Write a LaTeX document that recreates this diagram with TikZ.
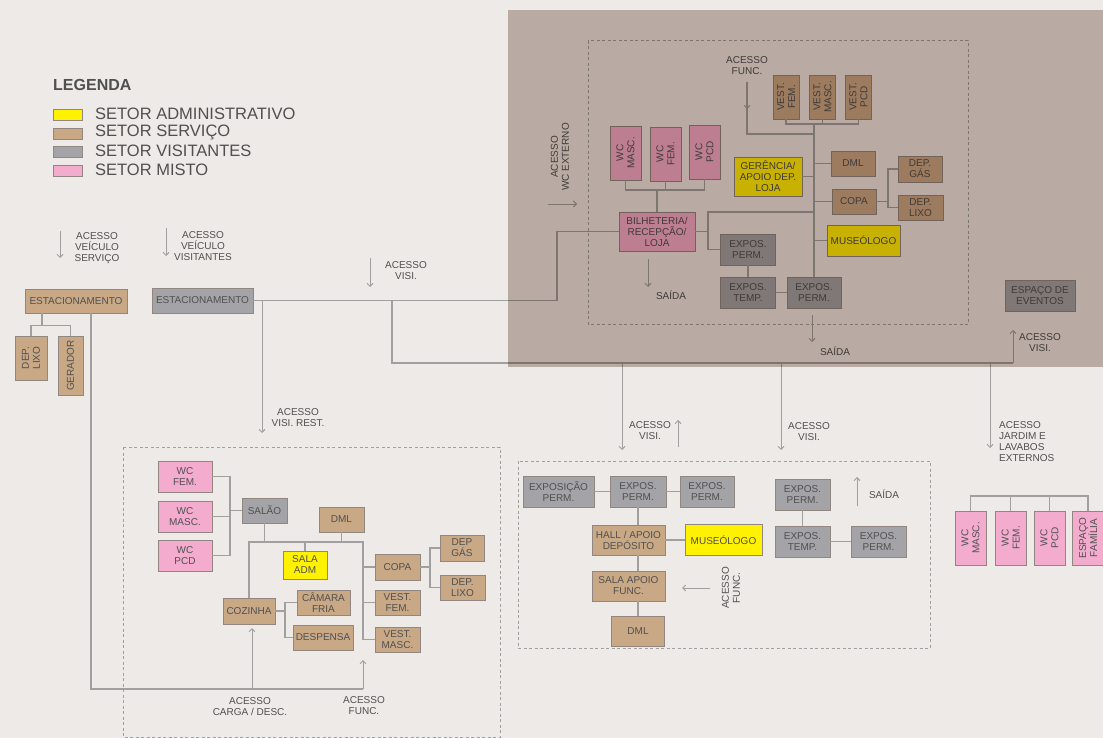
\documentclass[tikz,border=0pt]{standalone}
\usepackage{fontspec}
\setmainfont{Liberation Sans}
\usetikzlibrary{arrows.meta}
\definecolor{bgc}{RGB}{237,234,231}
\definecolor{ovl}{RGB}{200,187,180}
\definecolor{lnc}{RGB}{160,160,160}
\definecolor{txc}{RGB}{80,80,80}
\definecolor{bdc}{RGB}{145,135,128}
\definecolor{admc}{RGB}{255,242,0}
\definecolor{srvc}{RGB}{201,168,134}
\definecolor{visc}{RGB}{164,164,168}
\definecolor{mixc}{RGB}{243,172,206}

\begin{document}
\begin{tikzpicture}[x=1pt,y=-1pt,
  every node/.style={text=txc,font=\fontsize{10}{11}\selectfont,align=center,inner sep=1pt},
  sect/.style={draw=bdc,line width=0.9pt,fill=#1},
  adm/.style={sect=admc}, srv/.style={sect=srvc}, vis/.style={sect=visc}, mix/.style={sect=mixc},
  rot/.style={rotate=90},
  ln/.style={draw=lnc,line width=1.1pt},
  arr/.style={draw=lnc,line width=0.9pt,-{Straight Barb[length=3pt,width=6pt]}},
  dbox/.style={draw=lnc,line width=1pt,dash pattern=on 3pt off 2.5pt},
  leg/.style={font=\fontsize{16.5}{18}\selectfont,anchor=west}]
\fill[bgc] (0,0) rectangle (1103,738);
\useasboundingbox (0,0) rectangle (1103,738);

% legenda
\node[font=\bfseries\fontsize{16}{18}\selectfont,anchor=west,inner sep=0pt] (legT) at (53,85) {LEGENDA};
\node[adm,minimum width=29,minimum height=11] (lgA) at (67.5,115) {};
\node[srv,minimum width=29,minimum height=11] (lgS) at (67.5,133.5) {};
\node[vis,minimum width=29,minimum height=11] (lgV) at (67.5,151.5) {};
\node[mix,minimum width=29,minimum height=11] (lgM) at (67.5,170.5) {};
\node[leg] (lgAt) at (94,114) {SETOR ADMINISTRATIVO};
\node[leg] (lgSt) at (94,132.5) {SETOR SERVIÇO};
\node[leg] (lgVt) at (94,151) {SETOR VISITANTES};
\node[leg] (lgMt) at (94,170) {SETOR MISTO};

% estacionamento servico
\coordinate (aVs) at (60,231);
\draw[arr] (aVs) -- ++(0,27);
\node (lVs) at (97,248) {ACESSO\\VEÍCULO\\SERVIÇO};
\node[srv,minimum width=102,minimum height=24] (estS) at (76,301) {ESTACIONAMENTO};
\node[srv,rot,minimum width=44,minimum height=32] (lixoA) at (31,358) {DEP.\\LIXO};
\node[srv,rot,minimum width=59,minimum height=25] (gerador) at (70.5,365.5) {GERADOR};
\draw[ln] ([xshift=-34pt]estS.south) -- ++(0,12) coordinate (jS);
\draw[ln] (lixoA.east) |- (jS) -| (gerador.east);

% estacionamento visitantes
\coordinate (aVv) at (166,228);
\draw[arr] (aVv) -- ++(0,28);
\node (lVv) at (203,246) {ACESSO\\VEÍCULO\\VISITANTES};
\node[vis,minimum width=101,minimum height=25] (estV) at (202.5,300.5) {ESTACIONAMENTO};
\coordinate (aVi) at (370,258);
\draw[arr] (aVi) -- ++(0,29);
\node (lVi) at (406,271) {ACESSO\\VISI.};

% bloco superior (loja)
\node[mix,rot,minimum width=54,minimum height=31] (wcMa) at (625.5,153) {WC\\MASC.};
\node[mix,rot,minimum width=54,minimum height=31] (wcFa) at (665.5,154) {WC\\FEM.};
\node[mix,rot,minimum width=54,minimum height=31] (wcPa) at (704.5,152) {WC\\PCD};
\node[mix,minimum width=76,minimum height=39] (bilh) at (657,231.5) {BILHETERIA/\\RECEPÇÃO/\\LOJA};
\node[vis,minimum width=55,minimum height=31] (expA) at (748,249.5) {EXPOS.\\PERM.};
\node[vis,minimum width=55,minimum height=31] (tmpA) at (748,292.5) {EXPOS.\\TEMP.};
\node[vis,minimum width=54,minimum height=31] (expB) at (814,292.5) {EXPOS.\\PERM.};
\node[srv,rot,minimum width=44,minimum height=26] (vesFa) at (786,97) {VEST.\\FEM.};
\node[srv,rot,minimum width=44,minimum height=26] (vesMa) at (822.5,97) {VEST.\\MASC.};
\node[srv,rot,minimum width=44,minimum height=26] (vesPa) at (858.5,97) {VEST.\\PCD};
\node[adm,minimum width=68,minimum height=39] (geren) at (768,176.5) {GERÊNCIA/\\APOIO DEP.\\LOJA};
\node[srv,minimum width=44,minimum height=25] (dmlA) at (853,163.5) {DML};
\node[srv,minimum width=44,minimum height=25] (copaA) at (854,201.5) {COPA};
\node[srv,minimum width=44,minimum height=26] (gasA) at (920,169) {DEP.\\GÁS};
\node[srv,minimum width=45,minimum height=25] (lixoB) at (920.5,207.5) {DEP.\\LIXO};
\node[adm,minimum width=73,minimum height=31] (museoA) at (863.5,240.5) {MUSEÓLOGO};
\node[vis,minimum width=70,minimum height=31] (eventos) at (1040,295.5) {ESPAÇO DE\\EVENTOS};
\draw[dbox] (588,41) rectangle (968,324);
\node[rot] (lWc) at (560,157) {ACESSO\\WC EXTERNO};
\coordinate (aWc) at (548,204);
\draw[arr] (aWc) -- ++(29,0);
\coordinate (jWc) at (657,190);
\draw[ln] (wcMa.west) |- (jWc) -| (wcPa.west);
\draw[ln] (wcFa.west) -- (wcFa.west |- jWc);
\draw[ln] (jWc) -- (bilh.north);
\coordinate (jBa) at (708,231.5);
\coordinate (jSp) at (814,212);
\draw[ln] (bilh.east) -- (jBa) |- (expA.west);
\draw[ln] (jBa) |- (jSp);
\coordinate (jVe) at (814,124);
\draw[ln] (vesFa.west) |- (jVe) -| (vesPa.west);
\draw[ln] (vesMa.west) -- (vesMa.west |- jVe);
\draw[ln] (jVe) -- (expB.north);
\coordinate (aFn) at (747,82);
\coordinate (jFn) at (814,134);
\draw[ln] (aFn) |- (jFn);
\draw[arr] (aFn) -- ++(0,27);
\node (lFn) at (747,66) {ACESSO\\FUNC.};
\draw[ln] (geren.east) -- (geren.east -| jVe);
\draw[ln] (dmlA.west) -- (dmlA.west -| jVe);
\draw[ln] (copaA.west) -- (copaA.west -| jVe);
\draw[ln] (museoA.west) -- (museoA.west -| jVe);
\coordinate (jCp) at (888,201.5);
\draw[ln] (copaA.east) -- (jCp);
\draw[ln] (gasA.west) -| (jCp) |- (lixoB.west);
\draw[ln] (expA.south) -- (tmpA.north);
\draw[ln] (tmpA.east) -- (expB.west);
\coordinate (aSa) at (648,259);
\draw[arr] (aSa) -- ++(0,28);
\node (lSa) at (671,295) {SAÍDA};
\coordinate (aSc) at (812,315);
\draw[arr] (aSc) -- ++(0,27);
\node (lSc) at (835,351) {SAÍDA};

% ligacoes dos visitantes
\coordinate (jRest) at (262,300.5);
\coordinate (aRest) at (262,433);
\coordinate (jVisi) at (392,300.5);
\coordinate (jBil) at (557,300.5);
\draw[ln] (estV.east) -- (jBil) |- (bilh.west);
\draw[arr] (jRest) -- (aRest);
\node (lRest) at (298,418) {ACESSO\\VISI. REST.};
\coordinate (jBus) at (392,363);
\coordinate (jEv) at (1013,363);
\coordinate (aEv) at (1013,330);
\draw[ln] (jVisi) -- (jBus) -- (jEv);
\draw[arr] (jEv) -- (aEv);
\node (lVe) at (1040,343) {ACESSO\\VISI.};
\coordinate (jD1) at (622,363);
\coordinate (jD2) at (781,363);
\coordinate (jD3) at (990,363);
\coordinate (aD1) at (622,450);
\coordinate (aD2) at (781,450);
\coordinate (aD3) at (990,448);
\draw[arr] (jD1) -- (aD1);
\draw[arr] (jD2) -- (aD2);
\draw[arr] (jD3) -- (aD3);
\coordinate (aUp) at (678,447);
\draw[arr] (aUp) -- ++(0,-27);
\node (lVa) at (650,431) {ACESSO\\VISI.};
\node (lVb) at (809,432) {ACESSO\\VISI.};
\node[anchor=west,align=left] (lJd) at (998,442) {ACESSO\\JARDIM E\\LAVABOS\\EXTERNOS};

% restaurante
\draw[dbox] (123,447) rectangle (500,737);
\node[mix,minimum width=54,minimum height=31] (wcFb) at (185,476.5) {WC\\FEM.};
\node[mix,minimum width=54,minimum height=31] (wcMb) at (185,516.5) {WC\\MASC.};
\node[mix,minimum width=54,minimum height=31] (wcPb) at (185,555.5) {WC\\PCD};
\node[vis,minimum width=45,minimum height=25] (salao) at (264.5,510.5) {SALÃO};
\node[srv,minimum width=45,minimum height=25] (dmlB) at (341.5,519.5) {DML};
\node[adm,minimum width=44,minimum height=28] (salaAdm) at (305,565) {SALA\\ADM};
\node[srv,minimum width=52,minimum height=26] (cozinha) at (249,611) {COZINHA};
\node[srv,minimum width=53,minimum height=25] (camara) at (323.5,602.5) {CÂMARA\\FRIA};
\node[srv,minimum width=60,minimum height=25] (despensa) at (323,637.5) {DESPENSA};
\node[srv,minimum width=45,minimum height=26] (copaB) at (397.5,567) {COPA};
\node[srv,minimum width=45,minimum height=25] (vesFb) at (397.5,602.5) {VEST.\\FEM.};
\node[srv,minimum width=45,minimum height=25] (vesMb) at (397.5,639.5) {VEST.\\MASC.};
\node[srv,minimum width=44,minimum height=26] (gasB) at (462,548) {DEP\\GÁS};
\node[srv,minimum width=45,minimum height=25] (lixoC) at (462.5,587.5) {DEP.\\LIXO};
\coordinate (jWb) at (230,510.5);
\draw[ln] (wcFb.east) -| (jWb) |- (wcPb.east);
\draw[ln] (wcMb.east) -- (wcMb.east -| jWb);
\draw[ln] (jWb) -- (salao.west);
\coordinate (jSl) at (264.5,542);
\coordinate (jRt) at (363,542);
\draw[ln] (salao.south) -- (jSl);
\draw[ln] (cozinha.north) |- (jRt) |- (vesMb.west);
\draw[ln] (dmlB.south) -- (dmlB.south |- jRt);
\draw[ln] (salaAdm.north) -- (salaAdm.north |- jRt);
\draw[ln] (copaB.west) -- (copaB.west -| jRt);
\draw[ln] (vesFb.west) -- (vesFb.west -| jRt);
\coordinate (jCz) at (285,611);
\draw[ln] (cozinha.east) -- (jCz);
\draw[ln] (camara.west) -| (jCz) |- (despensa.west);
\coordinate (jCb) at (430,567);
\draw[ln] (copaB.east) -- (jCb);
\draw[ln] (gasB.west) -| (jCb) |- (lixoC.west);
\coordinate (jCg) at (252,689);
\coordinate (aCg) at (252,628);
\coordinate (jFb) at (363,689);
\coordinate (aFb) at (363,660);
\draw[ln] ([xshift=15pt]estS.south) |- (jFb);
\draw[arr] (jFb) -- (aFb);
\draw[arr] (jCg) -- (aCg);
\node (lCg) at (250,707) {ACESSO\\CARGA / DESC.};
\node (lFb) at (364,706) {ACESSO\\FUNC.};

% exposicao
\draw[dbox] (518,461) rectangle (930,648);
\node[vis,minimum width=71,minimum height=31] (expC) at (558.5,491.5) {EXPOSIÇÃO\\PERM.};
\node[vis,minimum width=56,minimum height=31] (expD) at (638,491.5) {EXPOS.\\PERM.};
\node[vis,minimum width=54,minimum height=31] (expE) at (707,491.5) {EXPOS.\\PERM.};
\node[srv,minimum width=73,minimum height=30] (hall) at (628.5,540) {HALL / APOIO\\DEPÓSITO};
\node[adm,minimum width=77,minimum height=31] (museoB) at (723.5,540) {MUSEÓLOGO};
\node[srv,minimum width=73,minimum height=30] (sala) at (628.5,586) {SALA APOIO\\FUNC.};
\node[srv,minimum width=53,minimum height=30] (dmlC) at (638,631) {DML};
\node[vis,minimum width=55,minimum height=31] (expF) at (802.5,494.5) {EXPOS.\\PERM.};
\node[vis,minimum width=55,minimum height=31] (tmpB) at (802.5,541.5) {EXPOS.\\TEMP.};
\node[vis,minimum width=55,minimum height=31] (expG) at (878.5,541.5) {EXPOS.\\PERM.};
\draw[ln] (expC.east) -- (expD.west);
\draw[ln] (expD.east) -- (expE.west);
\draw[ln] (expD.south) -- (expD.south |- hall.north);
\draw[ln] (hall.east) -- (museoB.west);
\draw[ln] (expD.south |- hall.south) -- (expD.south |- sala.north);
\draw[ln] (expD.south |- sala.south) -- (dmlC.north);
\draw[ln] (expF.south) -- (tmpB.north);
\draw[ln] (tmpB.east) -- (expG.west);
\node[rot] (lFc) at (731,588) {ACESSO\\FUNC.};
\coordinate (aFc) at (710,588);
\draw[arr] (aFc) -- ++(-28,0);
\coordinate (aSb) at (857,506);
\draw[arr] (aSb) -- ++(0,-29);
\node (lSb) at (884,494) {SAÍDA};

% lavabos externos
\node[mix,rot,minimum width=54,minimum height=31] (wcMc) at (970.5,538) {WC\\MASC.};
\node[mix,rot,minimum width=54,minimum height=31] (wcFc) at (1010.5,538) {WC\\FEM.};
\node[mix,rot,minimum width=54,minimum height=31] (wcPc) at (1049.5,538) {WC\\PCD};
\node[mix,rot,minimum width=54,minimum height=31] (famil) at (1088,538) {ESPAÇO\\FAMÍLIA};
\coordinate (jWr) at (1029,496);
\draw[ln] (wcMc.east) |- (jWr) -| (famil.east);
\draw[ln] (wcFc.east) -- (wcFc.east |- jWr);
\draw[ln] (wcPc.east) -- (wcPc.east |- jWr);

% area sombreada
\begin{scope}[blend mode=multiply]
\fill[ovl] (508,10) rectangle (1103,367);
\end{scope}
\end{tikzpicture}
\end{document}
